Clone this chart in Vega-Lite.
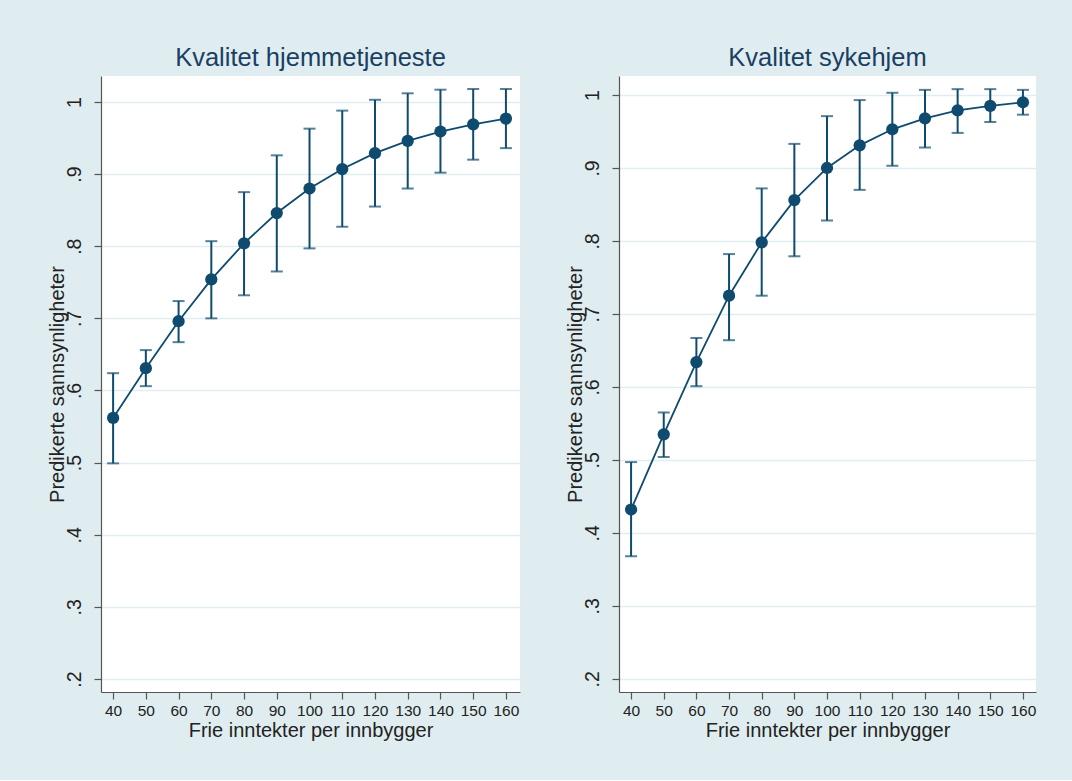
{
  "$schema": "https://vega.github.io/schema/vega-lite/v6.json",
  "padding": {"left": 46, "top": 45, "right": 36, "bottom": 39},
  "datasets": {
    "d": [
      {"panel": "h", "x": 40, "p": 0.562, "lo": 0.499, "hi": 0.624},
      {"panel": "h", "x": 50, "p": 0.631, "lo": 0.606, "hi": 0.656},
      {"panel": "h", "x": 60, "p": 0.696, "lo": 0.667, "hi": 0.724},
      {"panel": "h", "x": 70, "p": 0.754, "lo": 0.700, "hi": 0.807},
      {"panel": "h", "x": 80, "p": 0.804, "lo": 0.732, "hi": 0.875},
      {"panel": "h", "x": 90, "p": 0.846, "lo": 0.765, "hi": 0.926},
      {"panel": "h", "x": 100, "p": 0.880, "lo": 0.797, "hi": 0.963},
      {"panel": "h", "x": 110, "p": 0.907, "lo": 0.827, "hi": 0.988},
      {"panel": "h", "x": 120, "p": 0.929, "lo": 0.855, "hi": 1.003},
      {"panel": "h", "x": 130, "p": 0.946, "lo": 0.880, "hi": 1.012},
      {"panel": "h", "x": 140, "p": 0.959, "lo": 0.902, "hi": 1.017},
      {"panel": "h", "x": 150, "p": 0.969, "lo": 0.920, "hi": 1.018},
      {"panel": "h", "x": 160, "p": 0.977, "lo": 0.936, "hi": 1.018},
      {"panel": "s", "x": 40, "p": 0.432, "lo": 0.368, "hi": 0.497},
      {"panel": "s", "x": 50, "p": 0.535, "lo": 0.504, "hi": 0.565},
      {"panel": "s", "x": 60, "p": 0.634, "lo": 0.601, "hi": 0.667},
      {"panel": "s", "x": 70, "p": 0.725, "lo": 0.664, "hi": 0.782},
      {"panel": "s", "x": 80, "p": 0.798, "lo": 0.725, "hi": 0.872},
      {"panel": "s", "x": 90, "p": 0.856, "lo": 0.779, "hi": 0.933},
      {"panel": "s", "x": 100, "p": 0.900, "lo": 0.828, "hi": 0.971},
      {"panel": "s", "x": 110, "p": 0.931, "lo": 0.870, "hi": 0.993},
      {"panel": "s", "x": 120, "p": 0.953, "lo": 0.903, "hi": 1.003},
      {"panel": "s", "x": 130, "p": 0.968, "lo": 0.928, "hi": 1.007},
      {"panel": "s", "x": 140, "p": 0.979, "lo": 0.948, "hi": 1.008},
      {"panel": "s", "x": 150, "p": 0.985, "lo": 0.963, "hi": 1.008},
      {"panel": "s", "x": 160, "p": 0.990, "lo": 0.973, "hi": 1.007}
    ]
  },
  "spacing": 45,
  "hconcat": [
    {
      "width": 419,
      "height": 616,
      "title": {"text": "Kvalitet hjemmetjeneste"},
      "data": {"name": "d"},
      "transform": [{"filter": "datum.panel == 'h'"}],
      "encoding": {
        "x": {"field": "x", "type": "quantitative", "scale": {"domain": [36.3, 164.3], "nice": false, "zero": false},
              "axis": {"values": [40, 50, 60, 70, 80, 90, 100, 110, 120, 130, 140, 150, 160], "title": "Frie inntekter per innbygger", "grid": false}}
      },
      "layer": [
        {"mark": {"type": "rule", "color": "#0e4b6e", "strokeWidth": 2},
         "encoding": {"y": {"field": "lo", "type": "quantitative", "scale": {"domain": [0.182, 1.036], "nice": false, "zero": false},
                             "axis": {"values": [0.2, 0.3, 0.4, 0.5, 0.6, 0.7, 0.8, 0.9, 1], "title": "Predikerte sannsynligheter",
                                      "labelExpr": "datum.value == 1 ? '1' : replace(format(datum.value, '.1f'), '0.', '.')"}},
                      "y2": {"field": "hi"}}},
        {"mark": {"type": "tick", "color": "#0e4b6e", "orient": "horizontal", "size": 12, "thickness": 2},
         "encoding": {"y": {"field": "lo", "type": "quantitative"}}},
        {"mark": {"type": "tick", "color": "#0e4b6e", "orient": "horizontal", "size": 12, "thickness": 2},
         "encoding": {"y": {"field": "hi", "type": "quantitative"}}},
        {"mark": {"type": "line", "color": "#0e4b6e", "strokeWidth": 1.8},
         "encoding": {"y": {"field": "p", "type": "quantitative"}}},
        {"mark": {"type": "point", "filled": true, "opacity": 1, "color": "#0e4b6e", "size": 150},
         "encoding": {"y": {"field": "p", "type": "quantitative"}}}
      ]
    },
    {
      "width": 417,
      "height": 616,
      "title": {"text": "Kvalitet sykehjem"},
      "data": {"name": "d"},
      "transform": [{"filter": "datum.panel == 's'"}],
      "encoding": {
        "x": {"field": "x", "type": "quantitative", "scale": {"domain": [36.3, 164.0], "nice": false, "zero": false},
              "axis": {"values": [40, 50, 60, 70, 80, 90, 100, 110, 120, 130, 140, 150, 160], "title": "Frie inntekter per innbygger", "grid": false}}
      },
      "layer": [
        {"mark": {"type": "rule", "color": "#0e4b6e", "strokeWidth": 2},
         "encoding": {"y": {"field": "lo", "type": "quantitative", "scale": {"domain": [0.182, 1.026], "nice": false, "zero": false},
                             "axis": {"values": [0.2, 0.3, 0.4, 0.5, 0.6, 0.7, 0.8, 0.9, 1], "title": "Predikerte sannsynligheter",
                                      "labelExpr": "datum.value == 1 ? '1' : replace(format(datum.value, '.1f'), '0.', '.')"}},
                      "y2": {"field": "hi"}}},
        {"mark": {"type": "tick", "color": "#0e4b6e", "orient": "horizontal", "size": 12, "thickness": 2},
         "encoding": {"y": {"field": "lo", "type": "quantitative"}}},
        {"mark": {"type": "tick", "color": "#0e4b6e", "orient": "horizontal", "size": 12, "thickness": 2},
         "encoding": {"y": {"field": "hi", "type": "quantitative"}}},
        {"mark": {"type": "line", "color": "#0e4b6e", "strokeWidth": 1.8},
         "encoding": {"y": {"field": "p", "type": "quantitative"}}},
        {"mark": {"type": "point", "filled": true, "opacity": 1, "color": "#0e4b6e", "size": 150},
         "encoding": {"y": {"field": "p", "type": "quantitative"}}}
      ]
    }
  ],
  "resolve": {"scale": {"x": "independent", "y": "independent"}},
  "config": {
    "background": "#e0edf0",
    "font": "Liberation Sans",
    "view": {"fill": "white", "stroke": null},
    "title": {"fontSize": 25.5, "fontWeight": "normal", "color": "#1a3f63", "offset": 5, "anchor": "middle"},
    "axis": {
      "domainColor": "#555555",
      "domainWidth": 1.2,
      "tickColor": "#555555",
      "tickWidth": 1.2,
      "tickSize": 7,
      "labelColor": "#222222",
      "titleColor": "#222222",
      "titleFontSize": 20,
      "titleFontWeight": "normal",
      "gridColor": "#e0edf0",
      "gridWidth": 1.6
    },
    "axisX": {"labelFontSize": 15.5, "labelPadding": 4, "titlePadding": 2},
    "axisY": {"labelAngle": -90, "labelAlign": "center", "labelBaseline": "bottom", "labelFontSize": 19.5, "labelPadding": 10, "titlePadding": -3}
  }
}
